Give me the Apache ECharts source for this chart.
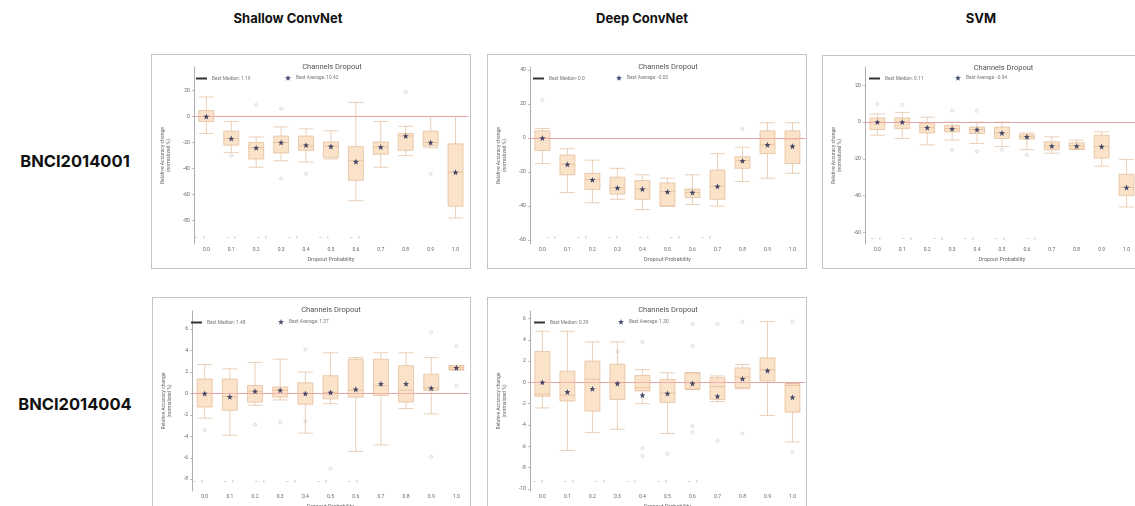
<!DOCTYPE html>
<html>
<head>
<meta charset="utf-8">
<script src="https://cdn.jsdelivr.net/npm/echarts@6/dist/echarts.min.js"></script>
<style>
  html, body { margin: 0; padding: 0; background: #fff; }
  body { width: 1135px; height: 506px; overflow: hidden; position: relative;
         font-family: Inter, Roboto, "Liberation Sans", sans-serif; }
  .head { position: absolute; top: 10px; font-weight: 700; font-size: 13px; color: #111;
          transform: translateX(-50%); white-space: nowrap; }
  .row { position: absolute; left: 75px; font-weight: 700; font-size: 16.5px; color: #111;
         transform: translate(-50%, -50%); white-space: nowrap; }
  .panel { position: absolute; border: 1px solid #c4c4c4; box-sizing: border-box; background: #fff; }
</style>
</head>
<body>
<div class="head" style="left:288px">Shallow ConvNet</div>
<div class="head" style="left:642px">Deep ConvNet</div>
<div class="head" style="left:981px">SVM</div>
<div class="row" style="top:161px">BNCI2014001</div>
<div class="row" style="top:404px">BNCI2014004</div>

<div id="p1" class="panel" style="left:151px;top:54px;width:320px;height:215px"></div>
<div id="p2" class="panel" style="left:487px;top:54px;width:320px;height:215px"></div>
<div id="p3" class="panel" style="left:822px;top:55px;width:332px;height:214px"></div>
<div id="p4" class="panel" style="left:152px;top:297px;width:319px;height:222px"></div>
<div id="p5" class="panel" style="left:487px;top:297px;width:320px;height:222px"></div>

<script>
// dropout probabilities on the x axis
const categories = ["0.0", "0.1", "0.2", "0.3", "0.4", "0.5", "0.6", "0.7", "0.8", "0.9", "1.0"];

// [min, Q1, median, Q3, max] per dropout probability
const shallow001Box = [
  [-13, -3.8, 0, 4.5, 15], [-27.7, -22, -17, -11.3, -3.8], [-39, -32.7, -24, -20, -15.8],
  [-34, -28, -20, -15, -8], [-35, -26, -22.6, -15, -9.5], [-32.7, -31.4, -23, -19.6, -11],
  [-64.7, -49, -34, -23, 10.8], [-39, -29, -23.4, -19.6, -3.8], [-30, -26, -15, -13, -7.5],
  [-24, -22.6, -20, -11.3, 0], [-78, -69, -42.8, -21, 0]
];
const shallow001Mean = [0, -17, -24, -20, -22, -23, -34.7, -23.4, -15, -20, -42.8];
const shallow001Out = [[1, -30], [2, 8.8], [3, 5.8], [3, -47.8], [4, -44], [8, 18.9], [9, -44]];
const shallow001Ticks = [20, 0, -20, -40, -60, -80];

const deep001Box = [
  [-15, -7.3, 0, 4.2, 5.6], [-32, -21.6, -15.5, -10, -6.3], [-38, -30.3, -24.5, -20.7, -13],
  [-36, -33, -29.3, -23, -17.8], [-42, -36, -30, -25, -21.6], [-40, -40, -31.6, -26.4, -23.6],
  [-39, -35, -32, -30, -21.6], [-40, -36, -28.4, -18.8, -9.2], [-25.5, -17.8, -13.4, -11, -5.4],
  [-23.6, -9.2, -4, 4.2, 9], [-20.7, -15, -0.6, 4.2, 9]
];
const deep001Mean = [0, -15.5, -24.5, -29.3, -30, -31.6, -32, -28.4, -13.4, -4, -4.8];
const deep001Out = [[0, 22.4], [8, 5.2]];
const deep001Ticks = [40, 20, 0, -20, -40, -60];

const svm001Box = [
  [-7.1, -4.1, 0, 2.3, 4.4], [-8.9, -3.6, 0, 2.3, 5.3], [-12.4, -5.9, -3, -0.5, 2.7],
  [-9.8, -5.3, -3.6, -1.8, 0], [-11.6, -6.2, -4.1, -2.7, 0], [-13.3, -8.9, -5.9, -2.7, 0],
  [-15, -9.2, -8, -6.8, -5.9], [-16.9, -15.1, -13, -10.7, -8], [-14.8, -14.8, -13, -11.2, -9.8],
  [-24, -19.6, -13.3, -7.1, -5.3], [-46.2, -40, -35.6, -28.4, -20.4]
];
const svm001Mean = [0, 0, -3, -3.6, -4.1, -5.9, -8, -13, -13, -13.3, -35.6];
const svm001Out = [[0, 9.8], [1, 9.4], [3, 6.2], [3, -15], [4, 6.2], [4, -16], [5, -15], [6, -17.8]];
const svm001Ticks = [20, 0, -20, -40, -60];

const shallow004Box = [
  [-2.3, -1.26, 0, 1.35, 2.7], [-3.9, -1.57, -0.3, 1.35, 2.3], [-1.1, -0.8, 0.2, 0.74, 2.9],
  [-0.6, -0.34, 0.3, 0.6, 3.2], [-3.7, -1, 0, 1, 2], [-0.95, -0.5, 0.1, 1.66, 3.8],
  [-5.4, -0.34, 0.3, 3.2, 3.35], [-4.8, -0.18, 0.74, 3.2, 3.8], [-1.4, -0.8, 0.3, 2.6, 3.8],
  [-1.9, 0.28, 0.5, 1.8, 3.35], [2.2, 2.2, 2.4, 2.6, 2.6]
];
const shallow004Mean = [0, -0.3, 0.2, 0.3, 0, 0.1, 0.4, 0.9, 0.9, 0.5, 2.4];
const shallow004Out = [[0, -3.4], [2, -2.9], [3, -2.7], [4, 4.1], [4, -2.6], [5, -7],
  [9, 5.7], [9, -5.9], [10, 4.4], [10, 0.74]];
const shallow004Ticks = [6, 4, 2, 0, -2, -4, -6, -8];

const deep004Box = [
  [-2.4, -1.3, -1.1, 2.9, 4.8], [-6.4, -1.74, -1.2, 1.05, 4.8], [-4.7, -2.7, 0.3, 2, 3.8],
  [-4.4, -1.6, 0, 1.7, 3.8], [-2, -0.8, -0.5, 0.65, 1.2], [-4.8, -1.9, -1, 0.28, 0.9],
  [-0.65, -0.65, 0, 0.9, 0.9], [-1.8, -1.6, -0.4, 0.43, 0.6], [-0.6, -0.5, 0.5, 1.36, 1.67],
  [-3.1, 0.12, 1.2, 2.3, 5.7], [-5.6, -2.8, -0.3, -0.12, -0.12]
];
const deep004Mean = [0, -0.9, -0.6, -0.1, -1.2, -1.05, -0.1, -1.3, 0.34, 1.1, -1.4];
const deep004Out = [[3, 2.9], [4, 3.8], [4, -6.2], [4, -6.9], [5, -6.7], [6, 5.5], [6, 3.4],
  [6, -4.1], [6, -4.7], [7, 5.5], [7, -5.5], [8, 5.7], [8, -4.8], [10, 5.7], [10, -6.5]];
const deep004Ticks = [6, 4, 2, 0, -2, -4, -6, -8, -10];

const STAR = "path://M12,1 L14.9,8.6 L23,9 L16.7,14 L18.8,22 L12,17.5 L5.2,22 L7.3,14 L1,9 L9.1,8.6 Z";

function makePanel(id, cfg) {
  const dom = document.getElementById(id);
  const chart = echarts.init(dom, null, { renderer: "canvas" });
  const g = cfg.grid;
  const w = dom.clientWidth;
  const h = dom.clientHeight;
  const plotW = w - g.left - g.right;

  // the little marks near the bottom of each axes
  const marks = [];
  for (let i = 0; i < 6; i++) {
    marks.push({
      type: "text", left: g.left + cfg.markX + i * 31, top: h - g.bottom - 12,
      style: { text: "–    ı", fontSize: 5, fill: "#9a9a9a" }
    });
  }

  chart.setOption({
    animation: false,
    textStyle: { fontFamily: "Roboto, 'Liberation Sans', sans-serif" },
    title: {
      text: "Channels Dropout", left: g.left + plotW / 2, top: 3, textAlign: "center",
      textStyle: { fontSize: 7.5, fontWeight: "normal", color: "#555" }
    },
    legend: [
      {
        left: cfg.medLeft, top: g.top + 4, itemWidth: 11, itemHeight: 2, selectedMode: false,
        textStyle: { fontSize: 4.8, color: "#777" },
        data: [{ name: cfg.medLabel, icon: "rect", itemStyle: { color: "#333", borderWidth: 0 } }]
      },
      {
        left: cfg.meanLeft, top: g.top + 3, itemWidth: 6, itemHeight: 6, selectedMode: false,
        textStyle: { fontSize: 4.8, color: "#777" },
        data: [{ name: cfg.meanLabel, icon: STAR, itemStyle: { color: "#1c2452" } }]
      }
    ],
    grid: { left: g.left, right: g.right, top: g.top, bottom: g.bottom },
    xAxis: {
      type: "category", data: categories,
      name: "Dropout Probability", nameLocation: "middle", nameGap: 11,
      nameTextStyle: { fontSize: 5.5, color: "#666" },
      axisLine: { lineStyle: { color: "#777", width: 0.6 } },
      axisTick: { alignWithLabel: true, length: 2, lineStyle: { color: "#777", width: 0.5 } },
      axisLabel: { fontSize: 5, color: "#666", margin: 3 }
    },
    yAxis: {
      type: "value", min: cfg.min, max: cfg.max,
      name: "Relative Accuracy change\n(normalized %)", nameLocation: "middle", nameGap: 17,
      nameTextStyle: { fontSize: 5, color: "#666", lineHeight: 6 },
      splitLine: { show: false },
      axisLine: { show: true, lineStyle: { color: "#777", width: 0.6 } },
      axisTick: { show: true, length: 2, customValues: cfg.ticks, lineStyle: { color: "#777", width: 0.5 } },
      axisLabel: { fontSize: 5, color: "#666", margin: 4, customValues: cfg.ticks }
    },
    graphic: marks,
    series: [
      {
        name: cfg.medLabel, type: "boxplot", data: cfg.box, boxWidth: [15, 15],
        itemStyle: { color: "#fbe3c9", borderColor: "#deb088", borderWidth: 0.6 },
        markLine: {
          silent: true, symbol: "none", label: { show: false },
          lineStyle: { color: "#f2a3a3", width: 0.8, type: "solid" },
          data: [{ yAxis: 0 }]
        }
      },
      {
        name: cfg.meanLabel, type: "scatter", symbol: STAR, symbolSize: 6, z: 5,
        itemStyle: { color: "#1c2452" },
        data: cfg.mean.map((v, i) => [i, v])
      },
      {
        name: "outliers", type: "scatter", symbol: "circle", symbolSize: 3,
        itemStyle: { color: "rgba(255,255,255,0)", borderColor: "#b4b4b4", borderWidth: 0.6 },
        data: cfg.out
      }
    ]
  });
}

makePanel("p1", {
  grid: { left: 34, right: 2, top: 12, bottom: 21 }, min: -98, max: 38,
  box: shallow001Box, mean: shallow001Mean, out: shallow001Out, ticks: shallow001Ticks,
  medLabel: "Best Median: 1.19", meanLabel: "Best Average: 10.42",
  medLeft: 39, meanLeft: 128, markX: 9
});
makePanel("p2", {
  grid: { left: 33, right: 1, top: 12, bottom: 21 }, min: -62.3, max: 41.7,
  box: deep001Box, mean: deep001Mean, out: deep001Out, ticks: deep001Ticks,
  medLabel: "Best Median: 0.0", meanLabel: "Best Average: -0.03",
  medLeft: 40, meanLeft: 123, markX: 25
});
makePanel("p3", {
  grid: { left: 35, right: 14, top: 11, bottom: 20 }, min: -66.4, max: 30,
  box: svm001Box, mean: svm001Mean, out: svm001Out, ticks: svm001Ticks,
  medLabel: "Best Median: 0.11", meanLabel: "Best Average: -0.04",
  medLeft: 41, meanLeft: 127, markX: 13
});
makePanel("p4", {
  grid: { left: 30, right: 1, top: 13, bottom: 27 }, min: -9.1, max: 7.7,
  box: shallow004Box, mean: shallow004Mean, out: shallow004Out, ticks: shallow004Ticks,
  medLabel: "Best Median: 1.48", meanLabel: "Best Average: 1.37",
  medLeft: 33, meanLeft: 120, markX: 10
});
makePanel("p5", {
  grid: { left: 33, right: 1, top: 13, bottom: 27 }, min: -10.2, max: 6.7,
  box: deep004Box, mean: deep004Mean, out: deep004Out, ticks: deep004Ticks,
  medLabel: "Best Median: 0.39", meanLabel: "Best Average: 1.30",
  medLeft: 41, meanLeft: 125, markX: 12
});
</script>
</body>
</html>
